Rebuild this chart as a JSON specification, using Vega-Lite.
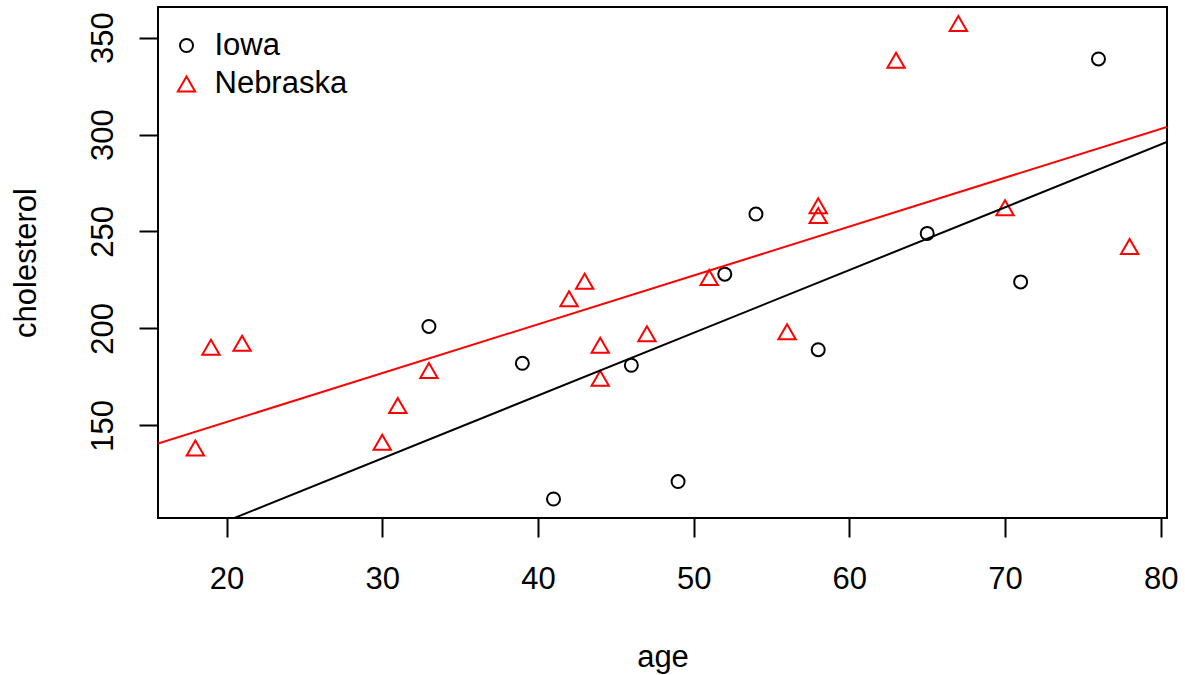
{
  "$schema": "https://vega.github.io/schema/vega-lite/v6.json",
  "width": 1009,
  "height": 511,
  "autosize": {"type": "none"},
  "padding": {"left": 158, "top": 7, "right": 18, "bottom": 157},
  "background": "white",
  "config": {
    "font": "Liberation Sans",
    "view": {"stroke": "black", "strokeWidth": 2},
    "axis": {
      "grid": false,
      "domain": false,
      "tickColor": "black",
      "tickWidth": 2,
      "tickSize": 19,
      "labelFont": "Liberation Sans",
      "labelFontSize": 31,
      "labelColor": "black",
      "labelFlush": false,
      "labelOverlap": false,
      "titleFont": "Liberation Sans",
      "titleFontSize": 31,
      "titleFontWeight": "normal",
      "titleColor": "black"
    },
    "legend": {
      "orient": "none",
      "legendX": 13,
      "legendY": 23,
      "padding": 0,
      "labelFont": "Liberation Sans",
      "labelFontSize": 31,
      "labelColor": "black",
      "symbolStrokeWidth": 2,
      "rowPadding": 6.5,
      "labelOffset": 12.5
    }
  },
  "data": {
    "values": [
      {"state": "Iowa", "age": 33, "cholesterol": 201},
      {"state": "Iowa", "age": 39, "cholesterol": 182},
      {"state": "Iowa", "age": 41, "cholesterol": 112},
      {"state": "Iowa", "age": 46, "cholesterol": 181},
      {"state": "Iowa", "age": 49, "cholesterol": 121},
      {"state": "Iowa", "age": 52, "cholesterol": 228},
      {"state": "Iowa", "age": 54, "cholesterol": 259},
      {"state": "Iowa", "age": 58, "cholesterol": 189},
      {"state": "Iowa", "age": 65, "cholesterol": 249},
      {"state": "Iowa", "age": 71, "cholesterol": 224},
      {"state": "Iowa", "age": 76, "cholesterol": 339},
      {"state": "Nebraska", "age": 18, "cholesterol": 137},
      {"state": "Nebraska", "age": 19, "cholesterol": 189},
      {"state": "Nebraska", "age": 21, "cholesterol": 191},
      {"state": "Nebraska", "age": 30, "cholesterol": 140},
      {"state": "Nebraska", "age": 31, "cholesterol": 159},
      {"state": "Nebraska", "age": 33, "cholesterol": 177},
      {"state": "Nebraska", "age": 42, "cholesterol": 214},
      {"state": "Nebraska", "age": 43, "cholesterol": 223},
      {"state": "Nebraska", "age": 44, "cholesterol": 190},
      {"state": "Nebraska", "age": 44, "cholesterol": 173},
      {"state": "Nebraska", "age": 47, "cholesterol": 196},
      {"state": "Nebraska", "age": 51, "cholesterol": 225},
      {"state": "Nebraska", "age": 56, "cholesterol": 197},
      {"state": "Nebraska", "age": 58, "cholesterol": 262},
      {"state": "Nebraska", "age": 58, "cholesterol": 257},
      {"state": "Nebraska", "age": 63, "cholesterol": 337},
      {"state": "Nebraska", "age": 67, "cholesterol": 356},
      {"state": "Nebraska", "age": 70, "cholesterol": 261},
      {"state": "Nebraska", "age": 78, "cholesterol": 241}
    ]
  },
  "encoding": {
    "x": {
      "field": "age",
      "type": "quantitative",
      "scale": {"domain": [15.6, 80.4], "nice": false, "zero": false},
      "axis": {
        "values": [20, 30, 40, 50, 60, 70, 80],
        "title": "age",
        "labelBaseline": "alphabetic",
        "labelPadding": 51,
        "titleBaseline": "alphabetic",
        "titleY": 148
      }
    },
    "y": {
      "field": "cholesterol",
      "type": "quantitative",
      "scale": {"domain": [102.2, 365.8], "nice": false, "zero": false},
      "axis": {
        "values": [150, 200, 250, 300, 350],
        "title": "cholesterol",
        "labelAngle": -90,
        "labelAlign": "center",
        "labelBaseline": "alphabetic",
        "labelPadding": 27,
        "titleAngle": -90,
        "titleBaseline": "alphabetic",
        "titleX": -123,
        "titleY": 255.5
      }
    }
  },
  "layer": [
    {
      "transform": [{"filter": "datum.state === 'Iowa'"}],
      "mark": {"type": "point", "filled": false, "strokeWidth": 2, "opacity": 1},
      "encoding": {
        "color": {"field": "state", "type": "nominal", "scale": {"domain": ["Iowa", "Nebraska"], "range": ["#000000", "#FF0000"]}, "legend": {"title": null}},
        "shape": {"field": "state", "type": "nominal", "scale": {"domain": ["Iowa", "Nebraska"], "range": ["circle", "triangle-up"]}, "legend": {"title": null}},
        "size": {"field": "state", "type": "nominal", "scale": {"domain": ["Iowa", "Nebraska"], "range": [169, 300]}, "legend": {"title": null}}
      }
    },
    {
      "transform": [{"filter": "datum.state === 'Nebraska'"}],
      "mark": {"type": "point", "filled": false, "strokeWidth": 2, "opacity": 1, "yOffset": -2.5},
      "encoding": {
        "color": {"field": "state", "type": "nominal", "scale": {"domain": ["Iowa", "Nebraska"], "range": ["#000000", "#FF0000"]}, "legend": {"title": null}},
        "shape": {"field": "state", "type": "nominal", "scale": {"domain": ["Iowa", "Nebraska"], "range": ["circle", "triangle-up"]}, "legend": {"title": null}},
        "size": {"field": "state", "type": "nominal", "scale": {"domain": ["Iowa", "Nebraska"], "range": [169, 300]}, "legend": {"title": null}}
      }
    },
    {
      "transform": [{"regression": "cholesterol", "on": "age", "groupby": ["state"], "extent": [15.6, 80.4]}],
      "mark": {"type": "line", "strokeWidth": 2, "clip": true},
      "encoding": {
        "stroke": {"field": "state", "type": "nominal", "scale": {"domain": ["Iowa", "Nebraska"], "range": ["#000000", "#FF0000"]}, "legend": null}
      }
    }
  ]
}
